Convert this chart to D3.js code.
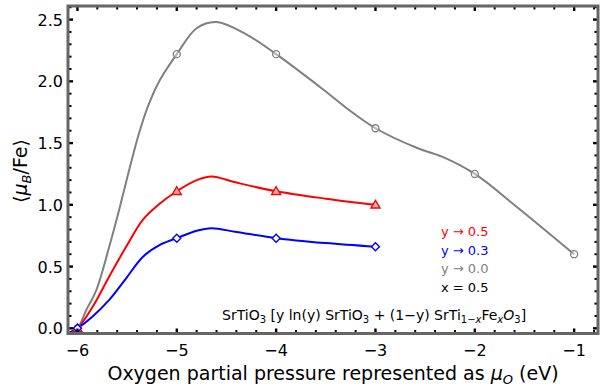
<!DOCTYPE html>
<html lang="en">
<script src="https://d3js.org/d3.v7.min.js"></script>
<style>
  body { margin: 0; background: white; }
  text { font-family: "DejaVu Sans", sans-serif; }
</style>
<body>
<svg id="chart" width="603" height="387"></svg>
<script>
// marker points
var grayPts = [[-6, 0], [-5, 2.22], [-4, 2.22], [-3, 1.62], [-2, 1.25], [-1, 0.60]];
var redPts = [[-6, 0], [-5, 1.11], [-4, 1.11], [-3, 1.00]];
var bluePts = [[-6, 0], [-5, 0.73], [-4, 0.73], [-3, 0.66]];

// curve samples
var grayLine = [[-6.09, -0.04], [-6, 0], [-5.91, 0.15], [-5.81, 0.31], [-5.68, 0.66], [-5.58, 0.96],
  [-5.48, 1.28], [-5.38, 1.58], [-5.28, 1.82], [-5.17, 2.01], [-5, 2.22], [-4.8, 2.43],
  [-4.6, 2.48], [-4.3, 2.38], [-4, 2.22], [-3.52, 1.93], [-3.27, 1.77], [-3, 1.62], [-2.58, 1.46],
  [-2.33, 1.39], [-2, 1.25], [-1.58, 0.985], [-1, 0.60]];
var redLine = [[-6.09, -0.04], [-6, 0], [-5.85, 0.17], [-5.68, 0.42], [-5.51, 0.66], [-5.34, 0.88],
  [-5.17, 1.01], [-5, 1.11], [-4.8, 1.20], [-4.65, 1.23], [-4.4, 1.18], [-4, 1.11], [-3.5, 1.05],
  [-3, 1.00]];
var blueLine = [[-6.09, -0.04], [-6, 0], [-5.85, 0.094], [-5.68, 0.23], [-5.51, 0.405], [-5.34, 0.58],
  [-5.17, 0.675], [-5, 0.73], [-4.8, 0.79], [-4.65, 0.81], [-4.4, 0.78], [-4, 0.73], [-3.5, 0.69],
  [-3, 0.66]];

var xTicks = [-6, -5, -4, -3, -2, -1];
var yTicks = [0, 0.5, 1.0, 1.5, 2.0, 2.5];
var legend = [["y \u2192 0.5", "red"], ["y \u2192 0.3", "blue"], ["y \u2192 0.0", "gray"], ["x = 0.5", "black"]];

var svg = d3.select("#chart");
var pL = 68, pR = 598, pT = 6, pB = 333.5;

var x = d3.scaleLinear().domain([-6.095, -0.76]).range([pL, pR]);
var y = d3.scaleLinear().domain([-0.042, 2.61]).range([pB, pT]);

svg.append("clipPath").attr("id", "clip")
  .append("rect").attr("x", pL).attr("y", pT).attr("width", pR - pL).attr("height", pB - pT);

var line = d3.line().x(function(d) { return x(d[0]); }).y(function(d) { return y(d[1]); })
  .curve(d3.curveCatmullRom.alpha(0.5));

var plot = svg.append("g").attr("clip-path", "url(#clip)");
plot.append("path").datum(grayLine).attr("d", line).attr("fill", "none").attr("stroke", "#808080").attr("stroke-width", 2);
plot.append("path").datum(redLine).attr("d", line).attr("fill", "none").attr("stroke", "#ff0000").attr("stroke-width", 2);
plot.append("path").datum(blueLine).attr("d", line).attr("fill", "none").attr("stroke", "#0000ff").attr("stroke-width", 2);

// markers
plot.selectAll(".gm").data(grayPts).enter().append("circle")
  .attr("cx", function(d) { return x(d[0]); }).attr("cy", function(d) { return y(d[1]); })
  .attr("r", 3.5).attr("fill", "white").attr("fill-opacity", 0.4).attr("stroke", "#808080").attr("stroke-width", 1.3);
plot.selectAll(".rm").data(redPts).enter().append("path")
  .attr("transform", function(d) { return "translate(" + x(d[0]) + "," + y(d[1]) + ")"; })
  .attr("d", "M0,-4.5L4.5,3.2L-4.5,3.2Z")
  .attr("fill", "#ffb0b0").attr("stroke", "#ff0000").attr("stroke-width", 1.4);
plot.selectAll(".bm").data(bluePts).enter().append("path")
  .attr("transform", function(d) { return "translate(" + x(d[0]) + "," + y(d[1]) + ")"; })
  .attr("d", "M0,-4L4,0L0,4L-4,0Z")
  .attr("fill", "white").attr("stroke", "#0000ff").attr("stroke-width", 1.4);

// ticks inside, on all four sides
var xMinor = d3.range(-6, -0.75, 0.2).map(function(v) { return +v.toFixed(1); });
var yMinor = d3.range(0, 2.61, 0.1).map(function(v) { return +v.toFixed(1); });
var tg = svg.append("g").attr("stroke", "black");
xMinor.forEach(function(v) {
  var major = xTicks.indexOf(v) >= 0;
  var len = major ? 5 : 3.5;
  tg.append("line").attr("x1", x(v)).attr("x2", x(v)).attr("y1", pB).attr("y2", pB - len).attr("stroke-width", major ? 2.4 : 2);
  tg.append("line").attr("x1", x(v)).attr("x2", x(v)).attr("y1", pT).attr("y2", pT + len).attr("stroke-width", major ? 2.4 : 2);
});
yMinor.forEach(function(v) {
  var major = yTicks.indexOf(v) >= 0;
  var len = major ? 5 : 3.5;
  tg.append("line").attr("y1", y(v)).attr("y2", y(v)).attr("x1", pL).attr("x2", pL + len).attr("stroke-width", major ? 2.4 : 2);
  tg.append("line").attr("y1", y(v)).attr("y2", y(v)).attr("x1", pR).attr("x2", pR - len).attr("stroke-width", major ? 2.4 : 2);
});

// frame
svg.append("rect").attr("x", pL).attr("y", pT).attr("width", pR - pL).attr("height", pB - pT)
  .attr("fill", "none").attr("stroke", "#666666").attr("stroke-width", 3);

// tick labels
svg.selectAll(".xl").data(xTicks).enter().append("text")
  .attr("x", function(d) { return x(d); }).attr("y", 356)
  .attr("text-anchor", "middle").style("font-size", "16px")
  .text(function(d) { return "\u2212" + Math.abs(d); });
svg.selectAll(".yl").data(yTicks).enter().append("text")
  .attr("x", 63).attr("y", function(d) { return y(d) + 6; })
  .attr("text-anchor", "end").style("font-size", "16px")
  .text(function(d) { return d.toFixed(1); });

// axis titles
var xt = svg.append("text").attr("x", 333).attr("y", 380).attr("text-anchor", "middle").style("font-size", "19px");
xt.append("tspan").text("Oxygen partial pressure represented as ");
xt.append("tspan").style("font-style", "italic").text("\u03bc");
xt.append("tspan").style("font-style", "italic").style("font-size", "13px").attr("dy", 4).text("O");
xt.append("tspan").attr("dy", -4).text(" (eV)");

var yt = svg.append("text").attr("transform", "translate(27,171) rotate(-90)").attr("text-anchor", "middle").style("font-size", "19px");
yt.append("tspan").text("\u27e8");
yt.append("tspan").style("font-style", "italic").text("\u03bc");
yt.append("tspan").style("font-style", "italic").style("font-size", "13px").attr("dy", 4).text("B");
yt.append("tspan").attr("dy", -4).text("/Fe\u27e9");

// legend labels
svg.selectAll(".lg").data(legend).enter().append("text")
  .attr("x", 441).attr("y", function(d, i) { return 236 + i * 18.5; })
  .style("font-size", "13px").attr("fill", function(d) { return d[1]; })
  .text(function(d) { return d[0]; });

// formula annotation
var ft = svg.append("text").attr("x", 222).attr("y", 320).style("font-size", "14px");
ft.append("tspan").text("SrTiO");
ft.append("tspan").style("font-size", "10px").attr("dy", 3).text("3");
ft.append("tspan").attr("dy", -3).text(" [y ln(y) SrTiO");
ft.append("tspan").style("font-size", "10px").attr("dy", 3).text("3");
ft.append("tspan").attr("dy", -3).text(" + (1\u2212y) SrTi");
ft.append("tspan").style("font-size", "10px").attr("dy", 3).text("1\u2212");
ft.append("tspan").style("font-size", "10px").style("font-style", "italic").text("x");
ft.append("tspan").attr("dy", -3).text("Fe");
ft.append("tspan").style("font-size", "10px").style("font-style", "italic").attr("dy", 3).text("x");
ft.append("tspan").style("font-style", "italic").attr("dy", -3).text("O");
ft.append("tspan").style("font-size", "10px").attr("dy", 3).text("3");
ft.append("tspan").attr("dy", -3).text("]");
</script>
</body>
</html>
